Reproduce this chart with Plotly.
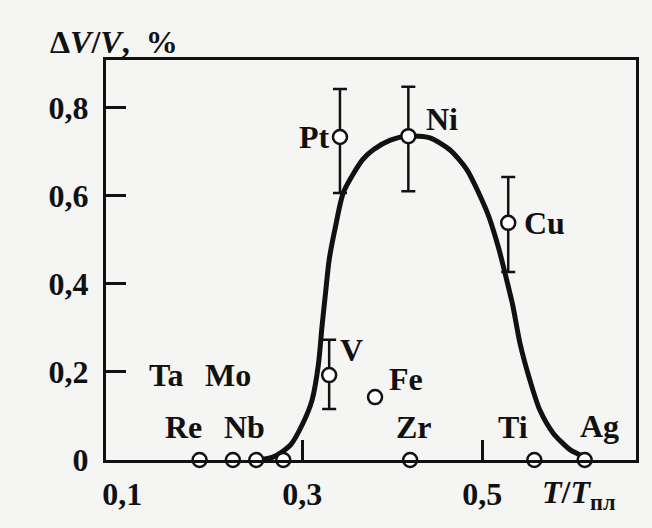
import plotly.graph_objects as go

# ---- data ----
# fitted curve  (T/Tпл, ΔV/V %)
curve_x = [0.251, 0.268, 0.287, 0.301, 0.311, 0.318, 0.322, 0.326, 0.330, 0.337,
           0.346, 0.367, 0.379, 0.398, 0.418, 0.442, 0.464, 0.483, 0.506, 0.518,
           0.526, 0.534, 0.542, 0.553, 0.564, 0.579, 0.598, 0.614]
curve_y = [0.000, 0.007, 0.034, 0.084, 0.136, 0.216, 0.302, 0.380, 0.455, 0.530,
           0.609, 0.682, 0.705, 0.727, 0.736, 0.732, 0.705, 0.660, 0.561, 0.484,
           0.420, 0.352, 0.266, 0.182, 0.114, 0.061, 0.023, 0.007]

# metals with error bars
err_names = ["Pt", "Ni", "Cu", "V"]
err_x = [0.342, 0.418, 0.529, 0.330]
err_y = [0.734, 0.736, 0.539, 0.193]
err_plus = [0.109, 0.112, 0.104, 0.080]
err_minus = [0.127, 0.125, 0.112, 0.077]

# metals without error bars
pt_x = [0.186, 0.223, 0.249, 0.279, 0.381, 0.420, 0.558, 0.614]
pt_y = [0.0, 0.0, 0.0, 0.0, 0.143, 0.0, 0.0, 0.0]

# labels of the metals
label_text = ["Pt", "Ni", "Cu", "V", "Fe", "Ta", "Mo", "Re", "Nb", "Zr", "Ti", "Ag"]
label_x = [0.314, 0.455, 0.569, 0.355, 0.415, 0.149, 0.218, 0.168, 0.236, 0.424, 0.534, 0.630]
label_y = [0.734, 0.775, 0.539, 0.250, 0.184, 0.193, 0.193, 0.075, 0.075, 0.075, 0.075, 0.078]

x_tickvals = [0.1, 0.3, 0.5]
x_ticktext = ["0,1", "0,3", "0,5"]
y_tickvals = [0, 0.2, 0.4, 0.6, 0.8]
y_ticktext = ["0", "0,2", "0,4", "0,6", "0,8"]

INK = "#111111"
BG = "#f5f5f3"
FONT = "Liberation Serif"
FS = 32

fig = go.Figure()

fig.add_trace(go.Scatter(
    x=curve_x, y=curve_y, mode="lines",
    line=dict(color=INK, width=5, shape="spline", smoothing=0.7),
    hoverinfo="skip", showlegend=False, cliponaxis=False))

fig.add_trace(go.Scatter(
    x=err_x, y=err_y, mode="markers", text=err_names,
    marker=dict(symbol="circle", size=14, color="white",
                line=dict(color=INK, width=2.5)),
    error_y=dict(type="data", symmetric=False, array=err_plus,
                 arrayminus=err_minus, color=INK, thickness=2.5, width=7),
    showlegend=False, cliponaxis=False))

fig.add_trace(go.Scatter(
    x=pt_x, y=pt_y, mode="markers",
    marker=dict(symbol="circle", size=14, color="white",
                line=dict(color=INK, width=2.5)),
    showlegend=False, cliponaxis=False))

for t, lx, ly in zip(label_text, label_x, label_y):
    fig.add_annotation(x=lx, y=ly, xref="x", yref="y", text=t, showarrow=False,
                       xanchor="center", yanchor="middle",
                       font=dict(family=FONT, size=FS, color=INK, weight="bold"))

fig.add_annotation(x=-0.11, y=1.045, xref="paper", yref="paper",
                   text="Δ<i>V</i>/<i>V</i>,  %", showarrow=False,
                   xanchor="left", yanchor="middle",
                   font=dict(family=FONT, size=FS, color=INK, weight="bold"))
fig.add_annotation(x=0.892, y=-0.085, xref="paper", yref="paper",
                   text="<i>T</i>/<i>T</i><sub>пл</sub>", showarrow=False,
                   xanchor="center", yanchor="middle",
                   font=dict(family=FONT, size=FS, color=INK, weight="bold"))

fig.update_layout(
    width=652, height=528,
    margin=dict(l=106, r=16, t=60, b=68, autoexpand=False),
    paper_bgcolor=BG, plot_bgcolor=BG,
    font=dict(family=FONT, size=FS, color=INK, weight="bold"),
    showlegend=False,
)
fig.update_xaxes(range=[0.082, 0.671], tickvals=x_tickvals, ticktext=x_ticktext,
                 ticks="", showgrid=False, zeroline=False, automargin=False,
                 showline=True, linecolor=INK, linewidth=3, mirror=True,
                 minor=dict(tickvals=[0.3, 0.5], ticks="inside", ticklen=20,
                            tickwidth=2.5, tickcolor=INK, showgrid=False),
                 tickfont=dict(family=FONT, size=FS, color=INK, weight="bold"),
                 ticklabelstandoff=4)
fig.update_yaxes(range=[0, 0.909], tickvals=y_tickvals, ticktext=y_ticktext,
                 ticks="inside", ticklen=20, tickwidth=2.5, tickcolor=INK,
                 showgrid=False, zeroline=False, automargin=False,
                 showline=True, linecolor=INK, linewidth=3, mirror=True,
                 tickfont=dict(family=FONT, size=FS, color=INK, weight="bold"),
                 ticklabelstandoff=8)

fig.write_html(
    "out.html",
    config={"displayModeBar": False},
    post_script="document.body.style.margin='0';document.body.style.background='%s';" % BG,
)
